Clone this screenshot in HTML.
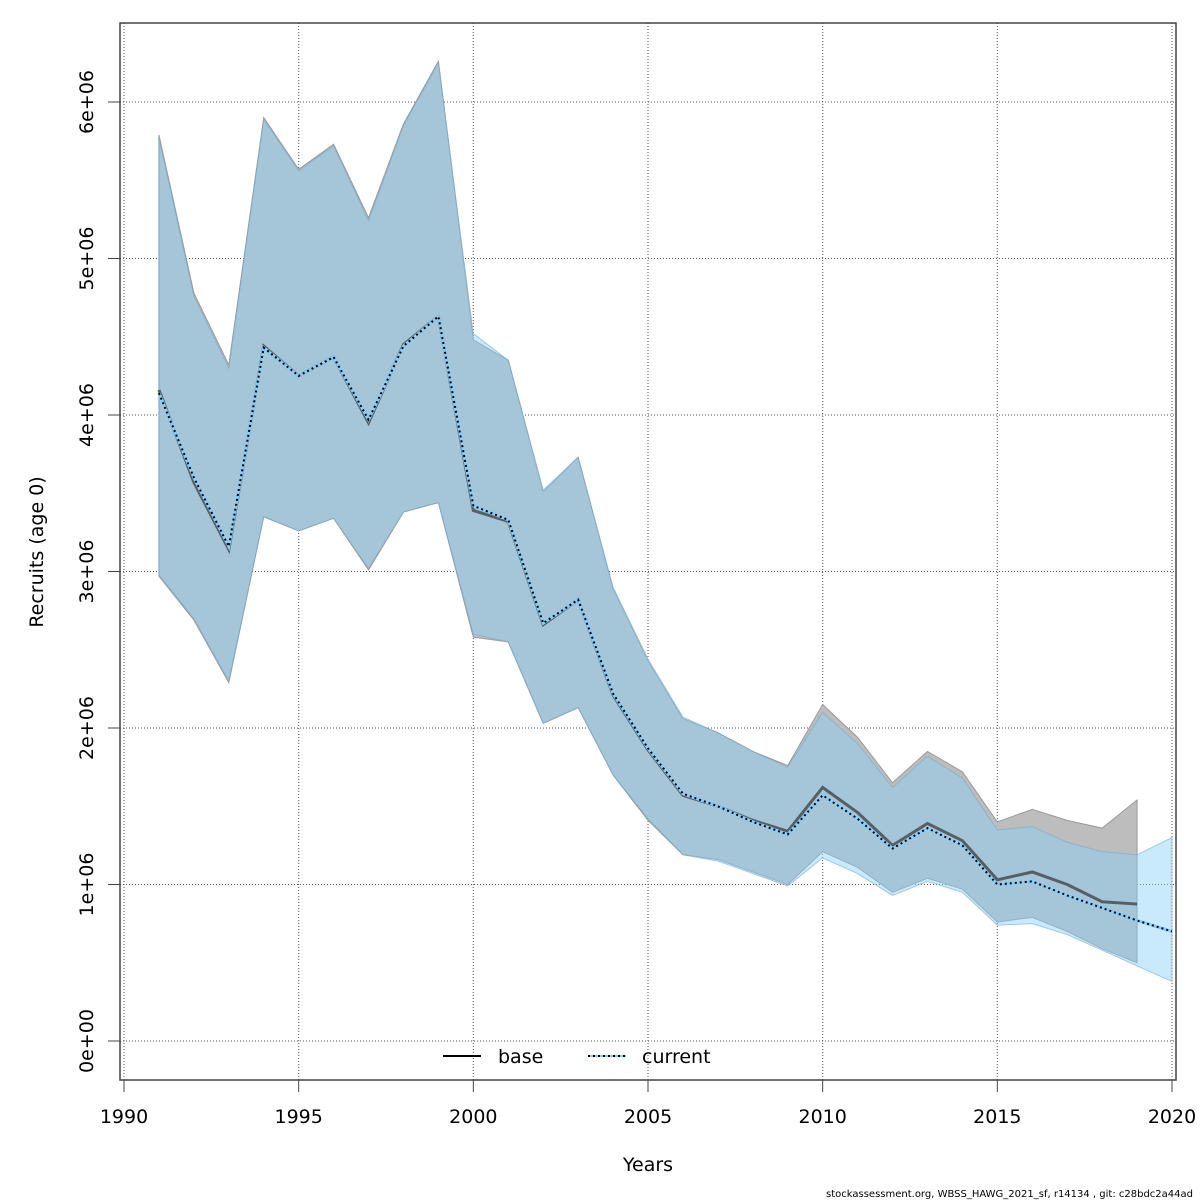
<!DOCTYPE html>
<html><head><meta charset="utf-8"><style>
body{margin:0;background:#fff;}
svg{display:block;font-family:"DejaVu Sans","Liberation Sans",sans-serif;}
</style></head><body>
<svg id="chart" width="1200" height="1200" viewBox="0 0 1200 1200" xmlns="http://www.w3.org/2000/svg">
<rect x="0" y="0" width="1200" height="1200" fill="#fff"/>
<g id="grid"></g>
<g id="bands"></g>
<g id="lines"></g>
<g id="axes"></g>
<g>
<line x1="443" y1="1056" x2="481" y2="1056" stroke="#000" stroke-width="2"/>
<text x="498" y="1063" font-size="19">base</text>
<line x1="588" y1="1056" x2="626" y2="1056" stroke="#87cefa" stroke-width="2"/>
<line x1="588" y1="1056" x2="626" y2="1056" stroke="#000" stroke-width="2" stroke-dasharray="2,3"/>
<text x="642" y="1063" font-size="19">current</text>
</g>
<text x="648" y="1171" font-size="19" text-anchor="middle">Years</text>
<text transform="translate(43,552) rotate(-90)" font-size="19" text-anchor="middle">Recruits (age 0)</text>
<text x="1193" y="1197" font-size="10" text-anchor="end">stockassessment.org, WBSS_HAWG_2021_sf, r14134 , git: c28bdc2a44ad</text>
</svg>
<script>
const baseYears=[1991,1992,1993,1994,1995,1996,1997,1998,1999,2000,2001,2002,2003,2004,2005,2006,2007,2008,2009,2010,2011,2012,2013,2014,2015,2016,2017,2018,2019];
const baseMean=[4.16,3.57,3.14,4.44,4.25,4.37,3.95,4.45,4.63,3.39,3.32,2.66,2.82,2.21,1.86,1.57,1.50,1.41,1.34,1.62,1.46,1.25,1.39,1.28,1.03,1.08,1.00,0.89,0.875];
const baseUpper=[5.79,4.78,4.32,5.90,5.57,5.73,5.26,5.86,6.26,4.48,4.35,3.51,3.73,2.89,2.43,2.06,1.97,1.85,1.76,2.15,1.94,1.65,1.85,1.72,1.40,1.48,1.41,1.36,1.54];
const baseLower=[2.97,2.69,2.29,3.35,3.26,3.34,3.01,3.38,3.44,2.58,2.55,2.03,2.13,1.70,1.41,1.19,1.16,1.08,1.00,1.21,1.11,0.95,1.04,0.97,0.76,0.79,0.70,0.59,0.50];
const curYears=[1991,1992,1993,1994,1995,1996,1997,1998,1999,2000,2001,2002,2003,2004,2005,2006,2007,2008,2009,2010,2011,2012,2013,2014,2015,2016,2017,2018,2019,2020];
const curMean=[4.14,3.60,3.16,4.43,4.25,4.37,3.97,4.44,4.63,3.42,3.33,2.67,2.82,2.22,1.87,1.58,1.50,1.40,1.32,1.57,1.42,1.23,1.36,1.25,1.00,1.02,0.93,0.85,0.77,0.70];
const curUpper=[5.77,4.76,4.30,5.89,5.56,5.72,5.24,5.85,6.25,4.52,4.35,3.52,3.73,2.90,2.44,2.07,1.97,1.85,1.75,2.10,1.90,1.62,1.82,1.68,1.35,1.37,1.27,1.21,1.19,1.30];
const curLower=[2.98,2.70,2.30,3.35,3.26,3.34,3.02,3.38,3.44,2.60,2.55,2.03,2.13,1.70,1.42,1.19,1.15,1.07,0.99,1.17,1.07,0.93,1.02,0.95,0.74,0.75,0.68,0.58,0.48,0.38];
const xTicks=[1990,1995,2000,2005,2010,2015,2020];
const yTicks=[0,1,2,3,4,5,6];
const yTickLabels=["0e+00","1e+06","2e+06","3e+06","4e+06","5e+06","6e+06"];

const NS="http://www.w3.org/2000/svg";
const X=v=>124+(v-1990)*(1172-124)/30;
const Y=v=>1041-v*156.5;
function mk(tag,attrs,parent){const e=document.createElementNS(NS,tag);for(const k in attrs)e.setAttribute(k,attrs[k]);parent.appendChild(e);return e;}
const grid=document.getElementById('grid'),bands=document.getElementById('bands'),lines=document.getElementById('lines'),axes=document.getElementById('axes');
xTicks.forEach(t=>{const l=mk('line',{x1:X(t),x2:X(t),y1:23,y2:1080,stroke:'#555','stroke-width':1,'stroke-dasharray':'1,2'},grid);

});
yTicks.forEach(t=>{const l=mk('line',{x1:120,x2:1176,y1:Y(t),y2:Y(t),stroke:'#555','stroke-width':1,'stroke-dasharray':'1,2'},grid);

});
function band(years,up,lo,fill,stroke){let d='';years.forEach((y,i)=>{d+=(i?'L':'M')+X(y)+','+Y(up[i]);});for(let i=years.length-1;i>=0;i--)d+='L'+X(years[i])+','+Y(lo[i]);return mk('path',{d:d+'Z',fill:fill,stroke:stroke,'stroke-width':1},bands);}
const b1=band(baseYears,baseUpper,baseLower,'#bdbdbd','#999');


const b2=band(curYears,curUpper,curLower,'rgba(135,206,250,0.45)','rgba(120,170,200,0.6)');


function pts(years,vals){return years.map((y,i)=>X(y)+','+Y(vals[i])).join(' ');}
const l1=mk('polyline',{points:pts(baseYears,baseMean),fill:'none',stroke:'rgba(60,60,60,0.75)','stroke-width':3},lines);


const l2=mk('polyline',{points:pts(curYears,curMean),fill:'none',stroke:'#87cefa','stroke-width':3},lines);


const l3=mk('polyline',{points:pts(curYears,curMean),fill:'none',stroke:'#000','stroke-width':2,'stroke-dasharray':'2,3'},lines);


const box=mk('rect',{x:120,y:23,width:1056,height:1057,fill:'none',stroke:'#444','stroke-width':1.5},axes);


xTicks.forEach(t=>{const tk=mk('line',{x1:X(t),x2:X(t),y1:1080,y2:1092,stroke:'#444','stroke-width':1},axes);


const tx=mk('text',{x:X(t),y:1123,'font-size':19,'text-anchor':'middle'},axes);tx.textContent=t;

});
yTicks.forEach((t,i)=>{const tk=mk('line',{x1:108,x2:120,y1:Y(t),y2:Y(t),stroke:'#444','stroke-width':1},axes);


const tx=mk('text',{transform:`translate(93,${Y(t)}) rotate(-90)`,'font-size':19,'text-anchor':'middle'},axes);tx.textContent=yTickLabels[i];

});
</script>
</body></html>
